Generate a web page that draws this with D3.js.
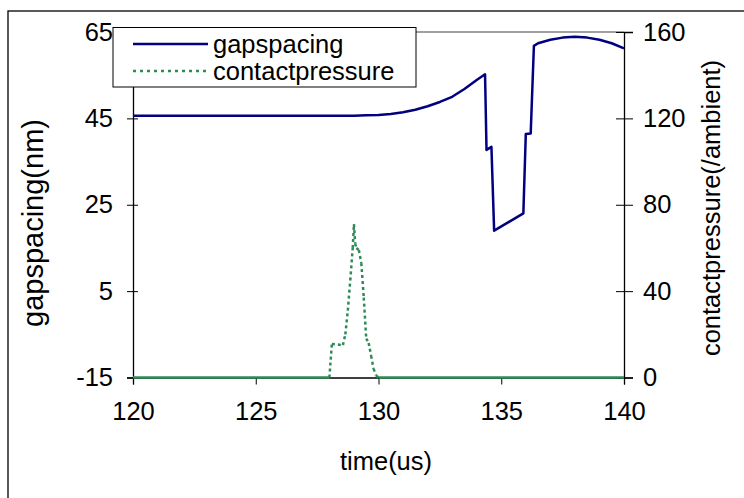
<!DOCTYPE html>
<html>
<head>
<meta charset="utf-8">
<script src="https://cdn.jsdelivr.net/npm/d3@7"></script>
<style>
  html, body { margin: 0; padding: 0; background: #fff; }
  svg { display: block; }
  text { font-family: "Liberation Sans", Arial, sans-serif; fill: #000; }
</style>
</head>
<body>
<svg id="chart" width="744" height="498"></svg>
<script>
// Time axis (us) and the two series drawn against it
const gapTime = [120, 125, 129, 129.5, 130, 130.5, 131, 131.5, 132, 132.5, 133, 133.5, 134, 134.34,
                 134.4, 134.6, 134.71, 135.9, 136.0, 136.2, 136.33, 136.5, 137, 137.5, 138, 138.5, 139, 139.5, 140];
const gapValues = [45.6, 45.6, 45.6, 45.7, 45.8, 46.0, 46.4, 47.0, 47.8, 48.8, 50.0, 51.8, 53.9, 55.2,
                   37.7, 38.4, 19.0, 23.0, 41.4, 41.5, 61.8, 62.4, 63.2, 63.7, 63.9, 63.7, 63.2, 62.4, 61.2];

const pressureTime = [120, 128.0, 128.1, 128.55, 128.65, 128.75, 128.85, 128.95, 129.0, 129.05, 129.1,
                      129.2, 129.3, 129.4, 129.5, 129.6, 129.7, 129.8, 129.9, 130, 140];
const pressureValues = [0, 0, 15.5, 15, 20, 31, 45, 60, 71, 62, 60, 59, 53, 37, 18, 16, 10, 4, 1, 0, 0];

const xTicks = [120, 125, 130, 135, 140];
const leftTicks = [-15, 5, 25, 45, 65];
const rightTicks = [0, 40, 80, 120, 160];

const seriesNames = ["gapspacing", "contactpressure"];
const seriesColors = ["#000080", "#2E8B57"];

const svg = d3.select("#chart");
const plot = { left: 133, right: 624, top: 32, bottom: 377.5 };

const x = d3.scaleLinear().domain([120, 140]).range([plot.left, plot.right]);
const yL = d3.scaleLinear().domain([-15, 65]).range([plot.bottom, plot.top]);
const yR = d3.scaleLinear().domain([0, 160]).range([plot.bottom, plot.top]);

// Outer chart frame
svg.append("rect")
  .attr("x", 8).attr("y", 11).attr("width", 760).attr("height", 520)
  .attr("fill", "none").attr("stroke", "#000").attr("stroke-width", 1.3);

// Plot area top border
svg.append("line")
  .attr("x1", plot.left).attr("x2", plot.right)
  .attr("y1", plot.top).attr("y2", plot.top)
  .attr("stroke", "#808080").attr("stroke-width", 1.5);

const fs = 25.5;
const fmt = d => String(d);

// Bottom axis
const xAxis = svg.append("g").attr("transform", `translate(0,${plot.bottom})`)
  .call(d3.axisBottom(x).tickValues(xTicks).tickFormat(fmt).tickSize(7).tickPadding(17));
// Left axis (gap spacing)
const lAxis = svg.append("g").attr("transform", `translate(${plot.left},0)`)
  .call(d3.axisLeft(yL).tickValues(leftTicks).tickFormat(fmt).tickSize(6).tickPadding(14));
// Right axis (contact pressure)
const rAxis = svg.append("g").attr("transform", `translate(${plot.right},0)`)
  .call(d3.axisRight(yR).tickValues(rightTicks).tickFormat(fmt).tickSize(9).tickPadding(10));

[xAxis, lAxis, rAxis].forEach(g => {
  g.select(".domain").attr("stroke", "#000").attr("stroke-width", 1.3);
  g.selectAll(".tick line").attr("stroke", "#000").attr("stroke-width", 1);
  g.selectAll(".tick text").attr("font-size", fs).attr("font-family", "Liberation Sans, Arial, sans-serif").attr("fill", "#000");
});
// Vertical axes use crossing tick marks
lAxis.selectAll(".tick line").attr("x1", 5);
rAxis.selectAll(".tick line").attr("x1", -8);

// Axis titles
svg.append("text").attr("x", 386).attr("y", 470).attr("text-anchor", "middle")
  .attr("font-size", fs).text("time(us)");
svg.append("text").attr("transform", "translate(43,223) rotate(-90)").attr("text-anchor", "middle")
  .attr("font-size", 29).text("gapspacing(nm)");
svg.append("text").attr("transform", "translate(720,208) rotate(-90)").attr("text-anchor", "middle")
  .attr("font-size", fs).text("contactpressure(/ambient)");

// Contact pressure: segments resting on zero are drawn solid, the rest dotted
const pData = pressureTime.map((t, i) => [t, pressureValues[i]]);
const pLine = d3.line().x(d => x(d[0])).y(d => yR(d[1]));
for (let i = 0; i < pData.length - 1; i++) {
  const seg = [pData[i], pData[i + 1]];
  const flat = seg[0][1] === 0 && seg[1][1] === 0;
  svg.append("path").attr("d", pLine(seg))
    .attr("fill", "none").attr("stroke", seriesColors[1]).attr("stroke-width", 2.5)
    .attr("stroke-dasharray", flat ? null : "3,3");
}

// Gap spacing
const gData = gapTime.map((t, i) => [t, gapValues[i]]);
svg.append("path").datum(gData)
  .attr("d", d3.line().x(d => x(d[0])).y(d => yL(d[1])))
  .attr("fill", "none").attr("stroke", seriesColors[0]).attr("stroke-width", 2.5)
  .attr("stroke-linejoin", "round");

// Legend
const legend = svg.append("g");
legend.append("rect").attr("x", 113).attr("y", 27.5).attr("width", 303).attr("height", 59.5)
  .attr("fill", "#fff").attr("stroke", "#000").attr("stroke-width", 1);
seriesNames.forEach((name, i) => {
  const cy = 44 + i * 27;
  legend.append("line").attr("x1", 133).attr("x2", 208).attr("y1", cy).attr("y2", cy)
    .attr("stroke", seriesColors[i]).attr("stroke-width", 2.5)
    .attr("stroke-dasharray", i === 1 ? "3,4" : null);
  legend.append("text").attr("x", 213).attr("y", cy + 9).attr("font-size", fs).text(name);
});
</script>
</body>
</html>
